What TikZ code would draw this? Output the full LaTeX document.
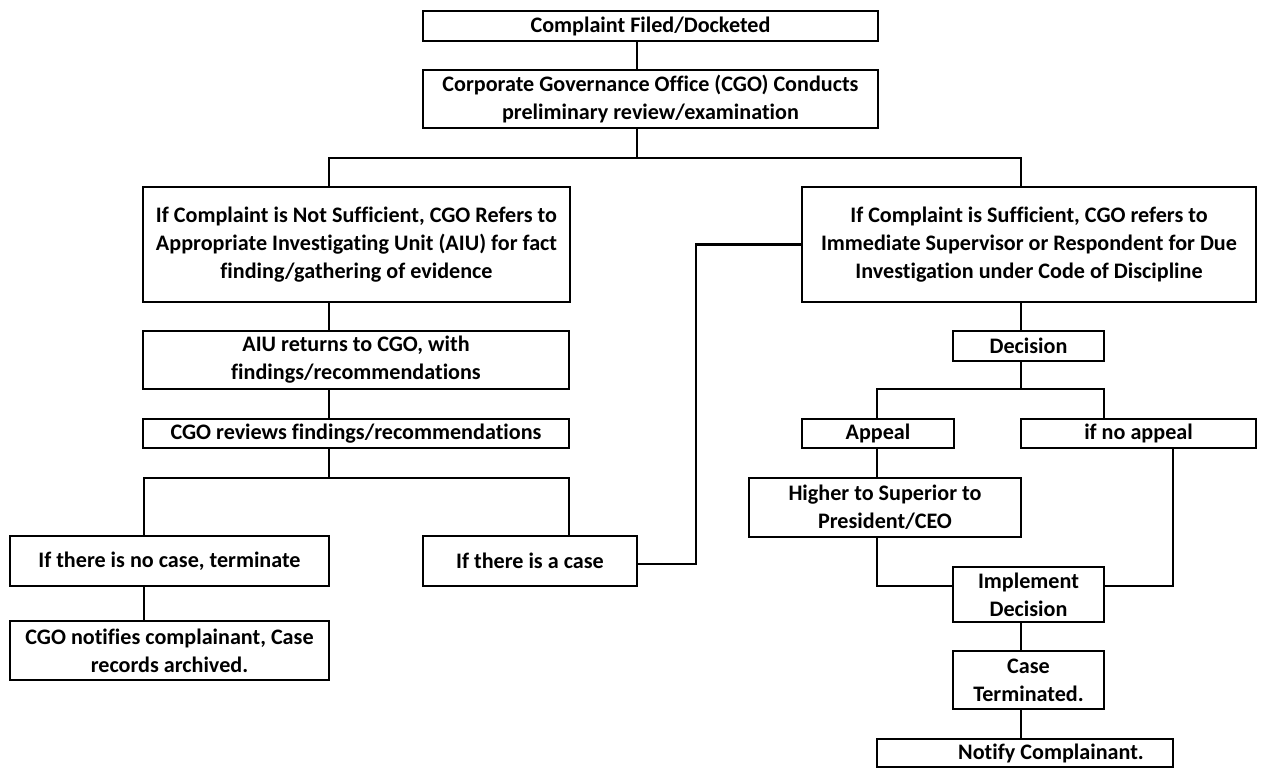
\documentclass[tikz,border=0pt]{standalone}
\usepackage{fontspec}
\setmainfont{Carlito}[Ligatures=NoCommon]

\begin{document}
\begin{tikzpicture}[x=0.02cm,y=-0.02cm,line width=1.4pt,
    box/.style={draw,align=center,inner sep=1pt,
      font=\fontsize{12.6pt}{15.9pt}\selectfont\bfseries}]
    \useasboundingbox (0,0) rectangle (1261,768);

    \path (650.5, 26)   node [box,minimum width=9.10cm,minimum height=0.60cm] (filed) {Complaint Filed/Docketed};
    \path (650.5, 99)   node [box,minimum width=9.10cm,minimum height=1.16cm] (cgo)
     {Corporate Governance Office (CGO) Conducts\\preliminary review/examination};

    \path (356.5,244.5) node [box,minimum width=8.54cm,minimum height=2.30cm] (notsuff)
     {If Complaint is Not Sufficient, CGO Refers to\\Appropriate Investigating Unit (AIU) for fact\\finding/gathering of evidence};
    \path (1029,244.5)  node [box,minimum width=9.08cm,minimum height=2.30cm] (suff)
     {If Complaint is Sufficient, CGO refers to\\Immediate Supervisor or Respondent for Due\\Investigation under Code of Discipline};

    \path (356,360)     node [box,minimum width=8.52cm,minimum height=1.16cm] (aiu)
     {AIU returns to CGO, with\\findings/recommendations};
    \path (356,433.5)   node [box,minimum width=8.52cm,minimum height=0.58cm] (review)
     {CGO reviews findings/recommendations};
    \path (169.5,561)   node [box,minimum width=6.38cm,minimum height=1.00cm] (nocase)
     {If there is no case, terminate};
    \path (530,561)     node [box,minimum width=4.28cm,minimum height=1.00cm] (iscase)
     {If there is a case};
    \path (169.5,650.5) node [box,minimum width=6.38cm,minimum height=1.18cm] (archived)
     {CGO notifies complainant, Case\\records archived.};

    \path (1028.5,346)  node [box,minimum width=3.02cm,minimum height=0.60cm] (decision) {Decision};
    \path (878,433.5)   node [box,minimum width=3.04cm,minimum height=0.58cm] (appeal) {Appeal};
    \path (1138.5,433.5) node [box,minimum width=4.70cm,minimum height=0.58cm] (noappeal) {if no appeal};
    \path (885,507.5)   node [box,minimum width=5.44cm,minimum height=1.18cm] (higher)
     {Higher to Superior to\\President/CEO};
    \path (1028.5,594.5) node [box,minimum width=3.02cm,minimum height=1.10cm] (implement)
     {Implement\\Decision};
    \path (1028.5,680)  node [box,minimum width=3.02cm,minimum height=1.16cm] (terminated)
     {Case\\Terminated.};
    \path (1025,753)    node [box,minimum width=5.92cm,minimum height=0.56cm] (notifyc)
     {\hspace*{1.04cm}Notify Complainant.};

    % junction points
    \coordinate (m1) at (637,158);
    \coordinate (l1) at (329,158);
    \coordinate (r1) at (1021,158);
    \coordinate (l2) at (329,478);
    \coordinate (l3) at (144,478);
    \coordinate (l4) at (569,478);
    \coordinate (k1) at (696,564);
    \coordinate (r2) at (1021,389);
    \coordinate (r3) at (877,389);
    \coordinate (r4) at (1104,389);
    \coordinate (r5) at (877,586);
    \coordinate (r6) at (1173,586);

    \draw (filed.south -| m1) -- (cgo.north -| m1);
    \draw (cgo.south -| m1) -- (m1);
    \draw (notsuff.north -| l1) -- (l1) -- (r1) -- (suff.north -| r1);

    \draw (notsuff.south -| l1) -- (aiu.north -| l1);
    \draw (aiu.south -| l1) -- (review.north -| l1);
    \draw (review.south -| l2) -- (l2);
    \draw (nocase.north -| l3) -- (l3) -- (l4) -- (iscase.north -| l4);
    \draw (nocase.south -| l3) -- (archived.north -| l3);
    \draw (iscase.east |- k1) -- (k1) |- (suff.west);

    \draw (suff.south -| r1) -- (decision.north -| r1);
    \draw (decision.south -| r2) -- (r2);
    \draw (appeal.north -| r3) -- (r3) -- (r4) -- (noappeal.north -| r4);
    \draw (appeal.south -| r3) -- (higher.north -| r3);
    \draw (higher.south -| r5) -- (r5) -- (implement.west |- r5);
    \draw (noappeal.south -| r6) -- (r6) -- (implement.east |- r6);
    \draw (implement.south -| r1) -- (terminated.north -| r1);
    \draw (terminated.south -| r1) -- (notifyc.north -| r1);
\end{tikzpicture}
\end{document}
